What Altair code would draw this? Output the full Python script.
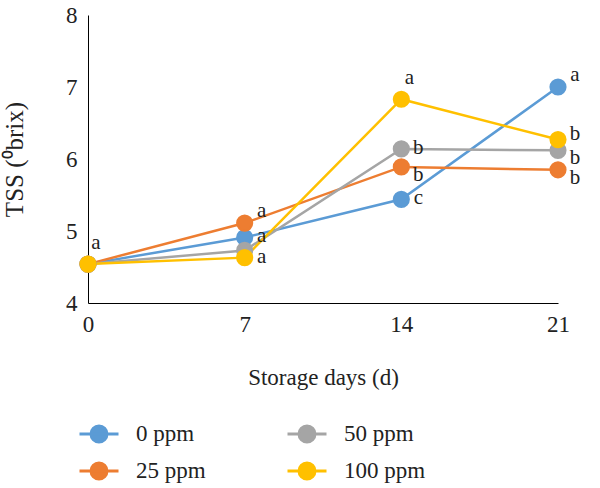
import altair as alt
import pandas as pd

days = [0, 7, 14, 21]
series = ["0 ppm", "25 ppm", "50 ppm", "100 ppm"]
colors = ["#5B9BD5", "#ED7D31", "#A5A5A5", "#FFC000"]

tss_0 = [4.54, 4.91, 5.44, 7.00]
tss_25 = [4.54, 5.11, 5.89, 5.85]
tss_50 = [4.54, 4.73, 6.14, 6.12]
tss_100 = [4.54, 4.63, 6.83, 6.27]

letters_0 = ["", "a", "c", "a"]
letters_25 = ["", "a", "b", "b"]
letters_50 = ["", "", "b", "b"]
letters_100 = ["a", "a", "a", "b"]

# label placement relative to its point (style, not data)
place_0 = ["", "mid", "mid", "upright"]
place_25 = ["", "upright", "down", "down"]
place_50 = ["", "", "mid", "down"]
place_100 = ["above", "mid", "above", "midup"]
offsets = {
    "above": (8, -21),
    "upright": (17, -12),
    "mid": (17, -1),
    "midup": (17, -6),
    "down": (17, 8),
}

FONT = "Liberation Serif"

rows = []
for s, vals, lets, pls in zip(
    series,
    [tss_0, tss_25, tss_50, tss_100],
    [letters_0, letters_25, letters_50, letters_100],
    [place_0, place_25, place_50, place_100],
):
    for d, v, l, p in zip(days, vals, lets, pls):
        rows.append({"series": s, "day": d, "tss": v, "letter": l, "place": p})
df = pd.DataFrame(rows)

# legend order row-major to get columns (0,25) and (50,100)
legend_domain = ["0 ppm", "50 ppm", "25 ppm", "100 ppm"]
legend_range = [colors[series.index(s)] for s in legend_domain]
scale = alt.Scale(domain=legend_domain, range=legend_range)

sym = "M-1,0L1,0M0.41,0A0.41,0.41,0,1,1,-0.41,0A0.41,0.41,0,1,1,0.41,0Z"
legend = alt.Legend(
    title=None, orient="none", legendX=-10, legendY=398, columns=2,
    direction="horizontal",
    symbolType=sym, symbolSize=1521, symbolStrokeWidth=3,
    labelFontSize=23, labelOffset=16, columnPadding=75, rowPadding=2,
    labelColor="#222222", labelFont=FONT,
)

x = alt.X("day:Q", scale=alt.Scale(domain=[0, 21], nice=False, zero=False),
          axis=alt.Axis(values=days, title="Storage days (d)", grid=False, ticks=False,
                        domainColor="#000000", labelFontSize=23, titleFontSize=23,
                        labelPadding=10, titlePadding=30, labelColor="#222222",
                        titleColor="#222222", titleFontWeight="normal",
                        labelFont=FONT, titleFont=FONT,
                        labelFlush=False))
y = alt.Y("tss:Q", scale=alt.Scale(domain=[4, 8], nice=False, zero=False),
          axis=alt.Axis(values=[4, 5, 6, 7, 8], title="TSS (⁰brix)", grid=False,
                        ticks=False, domainColor="#000000", labelFontSize=23,
                        titleFontSize=25, labelPadding=11, titlePadding=38,
                        labelColor="#222222", titleColor="#222222",
                        labelFont=FONT, titleFont=FONT,
                        titleFontWeight="normal"))

base = alt.Chart(df)
lines = base.mark_line(strokeWidth=2.5).encode(
    x=x, y=y,
    stroke=alt.Stroke("series:N", scale=scale, legend=legend),
    detail="series:N",
    order="day:Q",
)
points = base.mark_point(filled=True, size=230, opacity=1).encode(
    x=x, y=y,
    fill=alt.Fill("series:N", scale=scale, legend=legend),
    stroke=alt.Stroke("series:N", scale=scale, legend=legend),
)

layers = [lines, points]
for name, (dx, dy) in offsets.items():
    layers.append(
        base.transform_filter(alt.datum.place == name).mark_text(
            align="center", baseline="middle", dx=dx, dy=dy, fontSize=21,
            color="#222222", font=FONT
        ).encode(x=x, y=y, text="letter:N")
    )

chart = alt.layer(*layers).properties(
    width=470, height=288,
    autosize=alt.AutoSizeParams(type="none"),
    padding={"left": 88, "top": 15, "right": 42, "bottom": 185},
).configure(font=FONT).configure_view(stroke=None)

chart.save("out.html", embed_options={"renderer": "svg", "actions": False})
